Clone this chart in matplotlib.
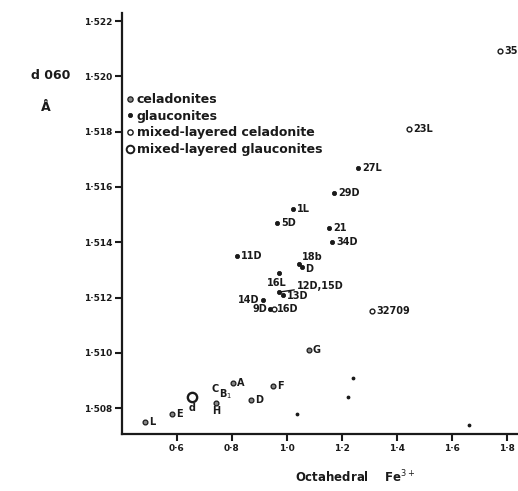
import matplotlib
matplotlib.use('Agg')
import matplotlib.pyplot as plt
from matplotlib.lines import Line2D
from matplotlib.ticker import FixedLocator, FuncFormatter

# ── Data ──────────────────────────────────────────────────────────────────────
# kind: 'cel' celadonite, 'gla' glauconite, 'mlc' mixed-layered celadonite,
#       'mlg' mixed-layered glauconite, 'txt' letter only (no symbol)
names = ['35', '23L', '27L', '29D', '1L', '5D', '21', '34D', '11D', '18b',
         '8D', '16L', '12D,15D', '13D', '14D', '9D', '16D', '32709', 'G', 'A',
         'F', 'D', 'C', 'B$_1$', 'H', 'd', 'E', 'L']
fe3 = [1.775, 1.444, 1.258, 1.171, 1.022, 0.964, 1.153, 1.164, 0.818, 1.044,
       1.055, 0.971, 0.971, 0.985, 0.913, 0.938, 0.953, 1.309, 1.080, 0.804,
       0.949, 0.869, 0.738, 0.778, 0.742, 0.655, 0.582, 0.484]
d060 = [1.5209, 1.5181, 1.5167, 1.5158, 1.5152, 1.5147, 1.5145, 1.5140,
        1.5135, 1.5132, 1.5131, 1.5129, 1.5122, 1.5121, 1.5119, 1.5116,
        1.5116, 1.5115, 1.5101, 1.5089, 1.5088, 1.5083, 1.5087, 1.5085,
        1.5082, 1.5084, 1.5078, 1.5075]
kinds = ['mlc', 'mlc', 'gla', 'gla', 'gla', 'gla', 'gla', 'gla', 'gla', 'gla',
         'gla', 'gla', 'gla', 'gla', 'gla', 'gla', 'mlc', 'mlc', 'cel', 'cel',
         'cel', 'cel', 'txt', 'txt', 'cel', 'mlg', 'cel', 'cel']

# stray unlabelled dots
dots_x = [1.240, 1.222, 1.662, 1.036]
dots_y = [1.5091, 1.5084, 1.5074, 1.5078]

x_ticks = [0.6, 0.8, 1.0, 1.2, 1.4, 1.6, 1.8]
y_ticks = [1.508, 1.510, 1.512, 1.514, 1.516, 1.518, 1.520, 1.522]

legend_labels = ['celadonites', 'glauconites', 'mixed-layered celadonite',
                 'mixed-layered glauconites']

# ── Styles ────────────────────────────────────────────────────────────────────
INK = '#1a1a1a'
styles = {
    'cel': dict(marker='o', s=12, facecolors='#888888', edgecolors=INK, linewidths=0.9),
    'gla': dict(marker='o', s=9, facecolors=INK, edgecolors=INK, linewidths=0.6),
    'mlc': dict(marker='o', s=12, facecolors='white', edgecolors=INK, linewidths=1.0),
    'mlg': dict(marker='o', s=45, facecolors='white', edgecolors=INK, linewidths=1.7),
}
# label offset in pixels (dx, dy) and alignment per point
offsets = {
    '18b': (3, 7, 'left'), '8D': (3, -2, 'left'), '16L': (-2, -10, 'center'),
    '13D': (4, -1, 'left'), '14D': (-4, 0, 'right'), '9D': (-3, 0, 'right'),
    '16D': (3, 0, 'left'), 'd': (0, -11, 'center'), 'H': (0, -8, 'center'),
}

plt.rcParams['font.family'] = ['DejaVu Sans']
fig = plt.figure(figsize=(5.18, 4.91), dpi=100)
ax = fig.add_axes([0.2355, 0.1161, 0.7645, 0.8574])

for name, x, y, kind in zip(names, fe3, d060, kinds):
    if kind == 'txt':
        ax.text(x, y, name, fontsize=7, fontweight='bold', color=INK,
                ha='center', va='center')
        continue
    ax.scatter([x], [y], zorder=3, **styles[kind])
    if name == '12D,15D':
        ax.annotate(name, (x, y), xytext=(18, 6), textcoords='offset pixels',
                    fontsize=7, fontweight='bold', color=INK, va='center',
                    arrowprops=dict(arrowstyle='-', color=INK, lw=1.0,
                                    shrinkA=0, shrinkB=1))
        continue
    dx, dy, ha = offsets.get(name, (4, 0, 'left'))
    if name == '8D':
        name = 'D'
    ax.annotate(name, (x, y), xytext=(dx, dy), textcoords='offset pixels',
                fontsize=7, fontweight='bold', color=INK, ha=ha, va='center')

ax.scatter(dots_x, dots_y, s=3, color=INK, zorder=3)

# ── Axes ──────────────────────────────────────────────────────────────────────
ax.set_xlim(0.4, 1.84)
ax.set_ylim(1.50707, 1.52229)
for side in ['top', 'right']:
    ax.spines[side].set_visible(False)
for side in ['left', 'bottom']:
    ax.spines[side].set_linewidth(1.6)
    ax.spines[side].set_color(INK)

ax.xaxis.set_major_locator(FixedLocator(x_ticks))
ax.yaxis.set_major_locator(FixedLocator(y_ticks))
ax.xaxis.set_major_formatter(FuncFormatter(lambda v, p: f'{v:.1f}'.replace('.', '·')))
ax.yaxis.set_major_formatter(FuncFormatter(lambda v, p: f'{v:.3f}'.replace('.', '·')))
ax.tick_params(axis='both', direction='out', length=5, width=1.5, color=INK,
               labelsize=6.5, labelcolor=INK, pad=2)
for lab in ax.get_xticklabels() + ax.get_yticklabels():
    lab.set_fontweight('bold')

# ── Legend ────────────────────────────────────────────────────────────────────
handles = [Line2D([], [], linestyle='none', marker='o', markersize=ms,
                  markerfacecolor=fc, markeredgecolor=INK, markeredgewidth=ew)
           for ms, fc, ew in [(3.8, '#888888', 0.9), (3.0, INK, 0.6),
                              (3.8, 'white', 1.0), (5.5, 'white', 1.4)]]
leg = ax.legend(handles, legend_labels, loc='upper left',
                bbox_to_anchor=(0.012, 0.81), frameon=False, fontsize=9,
                handlelength=0.5, handletextpad=0.3, labelspacing=0.3,
                borderaxespad=0, borderpad=0)
for t in leg.get_texts():
    t.set_fontweight('bold')
    t.set_color(INK)

# ── Axis titles ───────────────────────────────────────────────────────────────
fig.text(0.097, 0.847, 'd 060', fontsize=9, fontweight='bold', color=INK,
         ha='center', va='center')
fig.text(0.089, 0.782, 'Å', fontsize=9, fontweight='bold', color=INK,
         ha='center', va='center')
fig.text(0.57, 0.029, 'Octahedral    Fe$^{3+}$', fontsize=8.5,
         fontweight='bold', color=INK, ha='left', va='center')

fig.savefig('out.png', dpi=100)
